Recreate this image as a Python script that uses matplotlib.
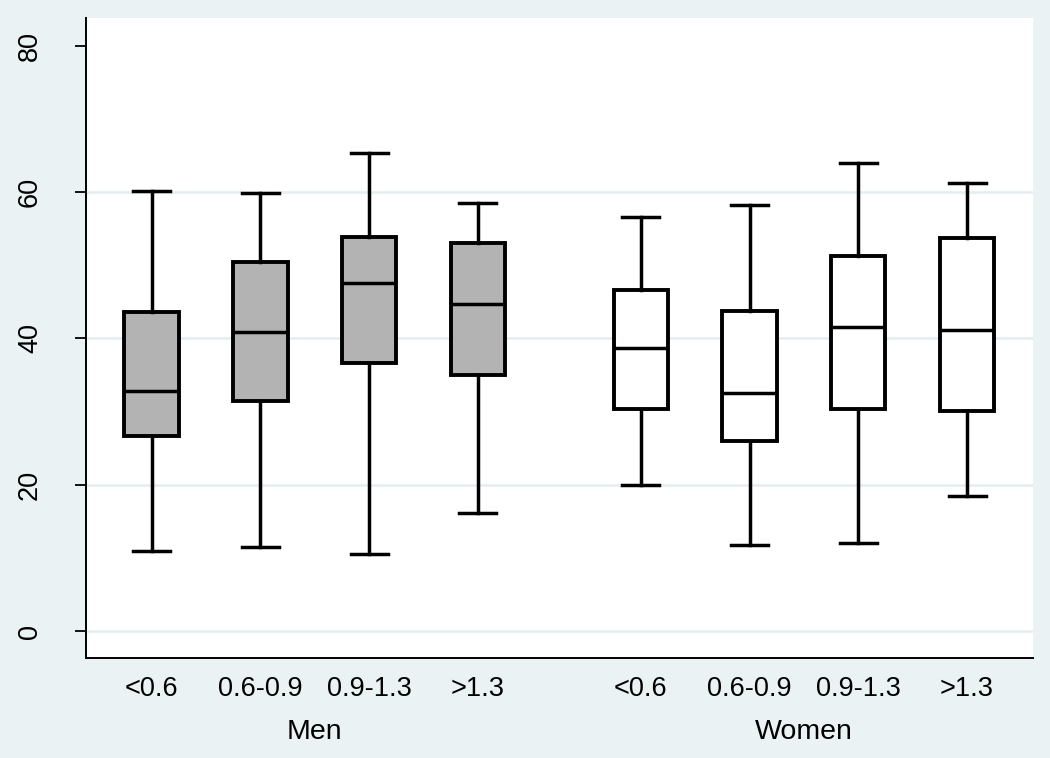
import matplotlib
matplotlib.use("Agg")
from matplotlib import pyplot as plt

groups = ["Men", "Women"]
categories = ["<0.6", "0.6-0.9", "0.9-1.3", ">1.3"]

# box statistics: lower whisker, Q1, median, Q3, upper whisker
men_low = [10.9, 11.5, 10.5, 16.1]
men_q1 = [26.6, 31.5, 36.6, 35.0]
men_med = [32.8, 40.9, 47.6, 44.7]
men_q3 = [43.6, 50.4, 53.8, 53.1]
men_high = [60.1, 59.9, 65.4, 58.5]

women_low = [20.0, 11.8, 12.0, 18.5]
women_q1 = [30.4, 26.0, 30.4, 30.1]
women_med = [38.7, 32.6, 41.6, 41.2]
women_q3 = [46.6, 43.8, 51.2, 53.7]
women_high = [56.6, 58.2, 64.0, 61.2]

y_ticks = [0, 20, 40, 60, 80]

bg = "#eaf2f3"
grid_col = "#e4edef"
plt.rcParams["font.family"] = ["Liberation Sans", "DejaVu Sans"]


def make_stats(low, q1, med, q3, high):
    return [dict(whislo=a, q1=b, med=c, q3=d, whishi=e, fliers=[])
            for a, b, c, d, e in zip(low, q1, med, q3, high)]


fig = plt.figure(figsize=(10.5, 7.58), dpi=100, facecolor=bg)
ax = fig.add_axes([86 / 1050, 1 - 658.3 / 758, 946.7 / 1050, 640.3 / 758])
ax.set_facecolor("white")

for y in y_ticks[:-1]:
    ax.axhline(y, color=grid_col, lw=1.8, zorder=0)

men_pos = [1, 2, 3, 4]
women_pos = [5.5, 6.5, 7.5, 8.5]
lw = 2.5
common = dict(widths=0.5, capwidths=0.34, patch_artist=True, showfliers=False,
              whiskerprops=dict(color="black", lw=lw),
              capprops=dict(color="black", lw=lw),
              medianprops=dict(color="black", lw=lw))

ax.bxp(make_stats(men_low, men_q1, men_med, men_q3, men_high), positions=men_pos,
       boxprops=dict(facecolor="#b3b3b3", edgecolor="black", lw=lw + 0.3), **common)
ax.bxp(make_stats(women_low, women_q1, women_med, women_q3, women_high), positions=women_pos,
       boxprops=dict(facecolor="white", edgecolor="black", lw=lw + 0.3), **common)

ax.set_xlim(0.396, 9.104)
ax.set_ylim(-3.73, 83.8)
ax.set_xticks(men_pos + women_pos)
ax.set_xticklabels(categories + categories, fontsize=19.5)
ax.tick_params(axis="x", length=0, pad=13)
ax.set_yticks(y_ticks)
ax.set_yticklabels([str(v) for v in y_ticks], fontsize=19.5, rotation=90, va="center")
ax.tick_params(axis="y", length=8, width=1.3, pad=23)

for s in ["top", "right"]:
    ax.spines[s].set_visible(False)
for s in ["left", "bottom"]:
    ax.spines[s].set_linewidth(1.4)

ax.text(sum(men_pos) / 4, -0.1146, groups[0], transform=ax.get_xaxis_transform(),
        ha="center", va="center", fontsize=20.5)
ax.text(sum(women_pos) / 4, -0.1146, groups[1], transform=ax.get_xaxis_transform(),
        ha="center", va="center", fontsize=20.5)

fig.savefig("out.png", dpi=100, facecolor=bg)
